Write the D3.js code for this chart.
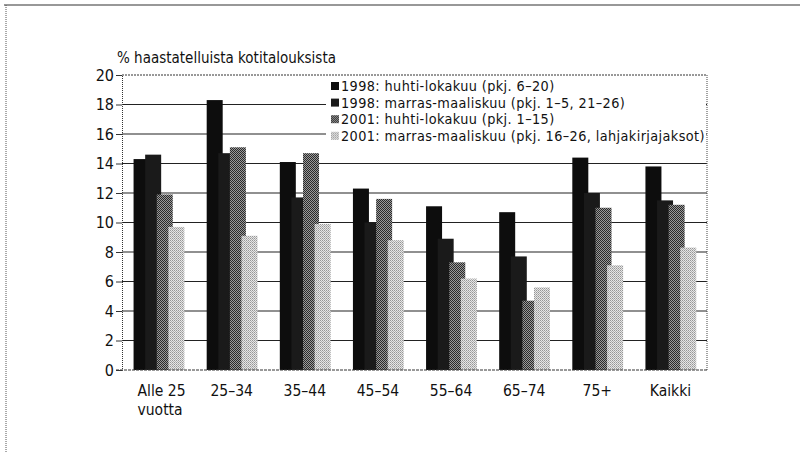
<!DOCTYPE html>
<html>
<head>
<meta charset="utf-8">
<script src="https://cdn.jsdelivr.net/npm/d3@7"></script>
<style>
  body { margin: 0; background: #fff; }
  svg text { font-family: "Liberation Sans Narrow", "DejaVu Sans Condensed", sans-serif; fill: #111; }
</style>
</head>
<body>
<svg id="chart" width="802" height="453"></svg>
<script>
const categories = [["Alle 25", "vuotta"], ["25–34"], ["35–44"], ["45–54"], ["55–64"], ["65–74"], ["75+"], ["Kaikki"]];
const seriesNames = [
  "1998: huhti-lokakuu (pkj. 6–20)",
  "1998: marras-maaliskuu (pkj. 1–5, 21–26)",
  "2001: huhti-lokakuu (pkj. 1–15)",
  "2001: marras-maaliskuu (pkj. 16–26, lahjakirjajaksot)"
];
const spring1998 = [14.3, 18.3, 14.1, 12.3, 11.1, 10.7, 14.4, 13.8];
const winter1998 = [14.6, 14.7, 11.7, 10.0, 8.9, 7.7, 12.0, 11.5];
const spring2001 = [11.9, 15.1, 14.7, 11.6, 7.3, 4.7, 11.0, 11.2];
const winter2001 = [9.7, 9.1, 9.9, 8.8, 6.2, 5.6, 7.1, 8.3];
const yTicks = [0, 2, 4, 6, 8, 10, 12, 14, 16, 18, 20];

const series = [spring1998, winter1998, spring2001, winter2001];
const fills = ["#0d0d0d", "#1a1a1a", "url(#dark)", "url(#light)"];

const svg = d3.select("#chart");

// dithered fills like the scanned print
const defs = svg.append("defs");
const dark = defs.append("pattern").attr("id", "dark")
  .attr("width", 2).attr("height", 2).attr("patternUnits", "userSpaceOnUse");
dark.append("rect").attr("width", 2).attr("height", 2).attr("fill", "#9a9a9a");
dark.append("rect").attr("width", 1).attr("height", 1).attr("fill", "#2a2a2a");
dark.append("rect").attr("x", 1).attr("y", 1).attr("width", 1).attr("height", 1).attr("fill", "#2a2a2a");
const light = defs.append("pattern").attr("id", "light")
  .attr("width", 2).attr("height", 2).attr("patternUnits", "userSpaceOnUse");
light.append("rect").attr("width", 2).attr("height", 2).attr("fill", "#e6e6e6");
light.append("rect").attr("width", 1).attr("height", 1).attr("fill", "#969696");
light.append("rect").attr("x", 1).attr("y", 1).attr("width", 1).attr("height", 1).attr("fill", "#b0b0b0");

// outer frame (top rule and dotted left edge)
svg.append("line").attr("x1", 4).attr("x2", 800).attr("y1", 5).attr("y2", 5)
  .attr("stroke", "#333").attr("stroke-width", 1.2);
svg.append("line").attr("x1", 6).attr("x2", 6).attr("y1", 5).attr("y2", 453)
  .attr("stroke", "#555").attr("stroke-dasharray", "1,1");

const x = d3.scaleBand().domain(d3.range(categories.length)).range([122, 707]);
const y = d3.scaleLinear().domain([0, 20]).range([370, 75]);

// gridlines
svg.append("g").selectAll("line").data(yTicks.filter(t => t > 0 && t < 20)).join("line")
  .attr("x1", 122).attr("x2", 707)
  .attr("y1", d => y(d)).attr("y2", d => y(d))
  .attr("stroke", "#222").attr("stroke-width", 1.1);

// plot border: dotted top and right
svg.append("line").attr("x1", 122).attr("x2", 707).attr("y1", y(20)).attr("y2", y(20))
  .attr("stroke", "#333").attr("stroke-dasharray", "2,1");
svg.append("line").attr("x1", 707).attr("x2", 707).attr("y1", y(20)).attr("y2", y(0))
  .attr("stroke", "#444").attr("stroke-dasharray", "1,1");

// legend box covers the gridlines
svg.append("rect").attr("x", 326).attr("y", 77).attr("width", 380).attr("height", 80)
  .attr("fill", "#fff");

// bars
const barW = 16, step = 11.6;
series.forEach((vals, si) => {
  svg.append("g").selectAll("rect").data(vals).join("rect")
    .attr("x", (d, i) => x(i) + x.bandwidth() / 2 - 25 + si * step)
    .attr("y", d => y(d))
    .attr("width", barW)
    .attr("height", d => y(0) - y(d))
    .attr("fill", fills[si]);
});

// axes
const yAxis = d3.axisLeft(y).tickValues(yTicks).tickSize(6).tickPadding(2).tickFormat(d3.format("d"));
const gy = svg.append("g").attr("transform", "translate(122,0)").call(yAxis);
gy.select(".domain").attr("stroke", "#333").attr("stroke-dasharray", "1,1");
gy.selectAll(".tick line").attr("stroke", "#333");
gy.selectAll(".tick text").attr("font-size", 16).style("fill", "#111");

svg.append("line").attr("x1", 116).attr("x2", 707).attr("y1", y(0)).attr("y2", y(0))
  .attr("stroke", "#333").attr("stroke-dasharray", "3,1");

// category labels, one text per line
const labelLines = [];
categories.forEach((lines, i) => lines.forEach((t, li) => labelLines.push({ i, li, t })));
const labels = svg.append("g").selectAll("text").data(labelLines).join("text")
  .attr("font-size", 15.5)
  .attr("x", d => x(d.i) + x.bandwidth() / 2)
  .attr("y", d => 396 + d.li * 18.5)
  .attr("text-anchor", "middle")
  .text(d => d.t);
// first label's lines are left-aligned together
const firstW = labels.filter(d => d.i === 0 && d.li === 0).node().getComputedTextLength();
labels.filter(d => d.i === 0)
  .attr("text-anchor", "start")
  .attr("x", x(0) + x.bandwidth() / 2 - firstW / 2 + 3);

// title
svg.append("text").attr("x", 117).attr("y", 63).attr("font-size", 15)
  .text("% haastatelluista kotitalouksista");

// legend
const leg = svg.append("g").selectAll("g").data(seriesNames).join("g")
  .attr("transform", (d, i) => `translate(331, ${91 + i * 16.6})`);
leg.append("rect").attr("x", 0).attr("y", -9).attr("width", 8).attr("height", 8)
  .attr("fill", (d, i) => fills[i]);
leg.append("text").attr("x", 10).attr("y", 0).attr("font-size", 14.3)
  .attr("letter-spacing", 0.4).text(d => d);
</script>
</body>
</html>
